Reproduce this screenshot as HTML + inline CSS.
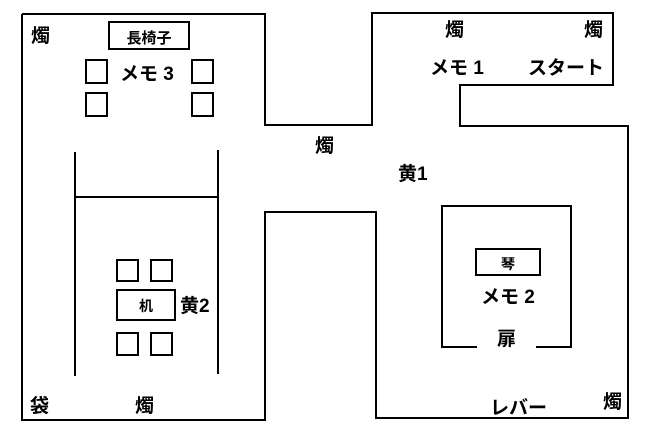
<!DOCTYPE html><html><head><style>
body{margin:0;background:#fff}
text{font-family:"Liberation Sans","Noto Sans CJK JP",sans-serif;font-weight:bold;fill:#000}
</style></head><body>
<svg width="657" height="442" viewBox="0 0 657 442" xmlns="http://www.w3.org/2000/svg">
<g fill="none" stroke="#000" stroke-width="2">
<polyline points="22,14 265,14 265,125 372,125 372,13 613,13 613,85 460,85 460,126 628,126 628,418 376,418 376,212 265,212 265,420 22,420 22,14"/>
<line x1="75" y1="152" x2="75" y2="376"/>
<line x1="218" y1="150" x2="218" y2="374"/>
<line x1="75" y1="197" x2="218" y2="197"/>
<rect x="109" y="22" width="80" height="27"/>
<rect x="86" y="60" width="21" height="23"/>
<rect x="86" y="93" width="21" height="23"/>
<rect x="192" y="60" width="21" height="23"/>
<rect x="192" y="93" width="21" height="23"/>
<rect x="117" y="260" width="21" height="21"/>
<rect x="151" y="260" width="21" height="21"/>
<rect x="117" y="333" width="21" height="22"/>
<rect x="151" y="333" width="21" height="22"/>
<rect x="117" y="290" width="58" height="30"/>
<polyline points="477,347 442,347 442,206 571,206 571,347 536,347"/>
<rect x="476" y="249" width="64" height="26"/>
</g>
<g font-size="19">
<text x="31" y="42">燭</text>
<text x="149" y="43" font-size="15" text-anchor="middle">長椅子</text>
<text x="120" y="80">メモ 3</text>
<text x="315" y="152">燭</text>
<text x="398" y="180">黄1</text>
<text x="445" y="36">燭</text>
<text x="584" y="36">燭</text>
<text x="430" y="74">メモ 1</text>
<text x="528" y="74">スタート</text>
<text x="508" y="269" font-size="14" text-anchor="middle">琴</text>
<text x="481" y="303">メモ 2</text>
<text x="497" y="345">扉</text>
<text x="146" y="311" font-size="14" text-anchor="middle">机</text>
<text x="180" y="312">黄2</text>
<text x="30" y="412">袋</text>
<text x="135" y="412">燭</text>
<text x="490" y="414">レバー</text>
<text x="603" y="408">燭</text>
</g>
</svg>
</body></html>
